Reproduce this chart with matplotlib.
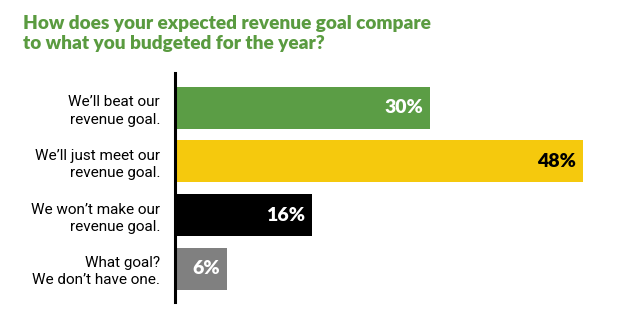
import matplotlib
matplotlib.use("Agg")
from matplotlib import pyplot as plt

# Data
labels = ["We\u2019ll beat our\nrevenue goal.",
          "We\u2019ll just meet our\nrevenue goal.",
          "We won\u2019t make our\nrevenue goal.",
          "What goal?\nWe don\u2019t have one."]
values = [30, 48, 16, 6]
bar_colors = ["#5b9d45", "#f5c90d", "#000000", "#808080"]
value_colors = ["white", "black", "white", "white"]

TITLE = "How does your expected revenue goal compare\nto what you budgeted for the year?"
TITLE_COLOR = "#5a9b40"

W, H = 620, 335
fig = plt.figure(figsize=(W / 100, H / 100), dpi=100)

# axes placed in pixel coordinates
left, right, top, bottom = 175, 620, 73, 302
ax = fig.add_axes([left / W, 1 - bottom / H, (right - left) / W, (bottom - top) / H])

ypos = list(range(len(values)))
ax.barh(ypos, values, height=0.785, color=bar_colors, left=0.12)
ax.set_xlim(0, (right - left) / 8.47)
ax.set_ylim(3.626, -0.654)

for sp in ["top", "right", "bottom"]:
    ax.spines[sp].set_visible(False)
ax.spines["left"].set_linewidth(2.2)
ax.set_xticks([])
ax.set_yticks(ypos)
ax.set_yticklabels(labels, family="Roboto", fontsize=11,
                   ha="right", linespacing=1.3)
ax.tick_params(axis="y", length=0, pad=10.8)

for y, v, c in zip(ypos, values, value_colors):
    ax.text(v + 0.12 - 0.8, y, f"{v}%", ha="right", va="center", color=c,
            fontsize=14, fontweight="heavy", family="Lato")

fig.text(23 / W, 1 - 15 / H, TITLE, ha="left", va="top", color=TITLE_COLOR,
         fontsize=13.7, fontweight="heavy", family="Lato", linespacing=1.2)

fig.savefig("out.png", dpi=100)
